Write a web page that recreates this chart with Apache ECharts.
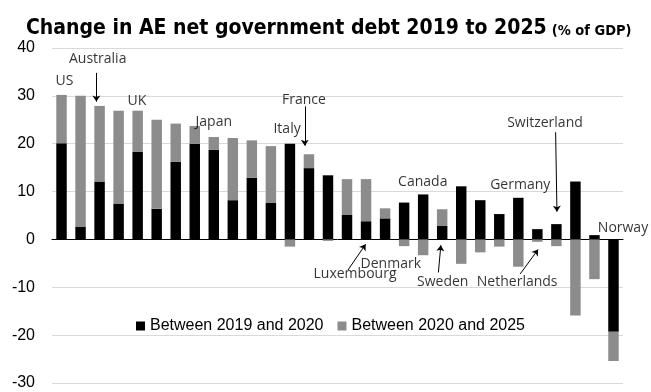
<!DOCTYPE html>
<html>
<head>
<meta charset="utf-8">
<script src="https://cdn.jsdelivr.net/npm/echarts@6/dist/echarts.min.js"></script>
<style>
html,body{margin:0;padding:0;background:#fff}
#chart{width:651px;height:392px}
</style>
</head>
<body>
<div id="chart"></div>
<script>
// 各经济体（只有标注的有名字）
var countries = ['US','AE2','Australia','AE4','UK','AE6','AE7','AE8','Japan','AE10','AE11','AE12',
	'Italy','France','AE15','AE16','Luxembourg','AE18','Denmark','Canada','Sweden','AE22','AE23',
	'AE24','Germany','Netherlands','Switzerland','AE28','AE29','Norway'];
var change1920 = [20.1,2.6,12.1,7.5,18.3,6.4,16.2,20.0,18.7,8.2,12.9,7.7,
	20.0,14.9,13.4,5.1,3.8,4.4,7.7,9.4,2.8,11.1,8.2,5.3,8.7,2.15,3.2,12.1,0.9,-19.3];
var change2025 = [10.1,27.4,15.8,19.4,8.6,18.6,8.0,3.7,2.7,13.0,7.8,11.8,
	-1.5,2.9,-0.3,7.5,8.8,2.1,-1.4,-3.3,3.5,-5.1,-2.7,-1.5,-5.7,-0.5,-1.4,-15.9,-8.3,-6.1];
var seriesNames = ['Between 2019 and 2020','Between 2020 and 2025'];
var yMin = -30, yMax = 40, yStep = 10;

// 标注文字（x 为类目序号，y 为数值）
var noteNames = ['US','Australia','UK','Japan','Italy','France','Luxembourg','Denmark',
	'Canada','Sweden','Netherlands','Germany','Switzerland','Norway'];
var noteX = [0.15,1.9,3.96,8.0,11.85,12.74,15.42,17.3,18.98,20.03,23.94,24.1,25.4,29.5];
var noteY = [33.2,37.7,29.0,24.6,23.0,29.2,-7.2,-5.1,11.9,-9.0,-9.0,11.3,24.3,2.3];

// 箭头 [x1,y1,x2,y2]
var arrowList = [
	[1.83,34.8,1.83,28.8],
	[12.78,27.8,12.78,19.6],
	[15.05,-6.4,15.98,-1.0],
	[19.8,-6.9,19.93,-1.2],
	[24.1,-7.2,25.04,-2.1],
	[25.96,22.4,26.03,5.8]
];

var chart = echarts.init(document.getElementById('chart'));

var notes = [];
for (var i = 0; i < noteNames.length; i++) {
	notes.push({name: noteNames[i], value: [noteX[i], noteY[i]]});
}
var arrows = [];
for (var j = 0; j < arrowList.length; j++) {
	var a = arrowList[j];
	arrows.push({coords: [[a[0], a[1]], [a[2], a[3]]]});
}

var option = {
	animation: false,
	title: {
		left: 21,
		top: 7,
		text: '{a|Change in AE net government debt 2019 to 2025} {b|(% of GDP)}',
		textStyle: {
			rich: {
				a: {fontFamily: 'DejaVu Sans Condensed', fontWeight: 'bold', fontSize: 21, color: '#000', lineHeight: 27, verticalAlign: 'bottom'},
				b: {fontFamily: 'DejaVu Sans Condensed', fontWeight: 'bold', fontSize: 14.5, color: '#000', lineHeight: 24, verticalAlign: 'bottom'}
			}
		}
	},
	legend: {
		data: seriesNames,
		left: 131,
		top: 313,
		icon: 'rect',
		itemWidth: 9,
		itemHeight: 9,
		itemGap: 14,
		textStyle: {fontFamily: 'Liberation Sans', fontSize: 16, color: '#000'}
	},
	grid: {left: 52, right: 28, top: 48, bottom: 9},
	xAxis: [{
		type: 'category',
		data: countries,
		axisLine: {onZero: true, lineStyle: {color: '#000', width: 1}},
		axisTick: {show: false},
		axisLabel: {show: false}
	}, {
		type: 'value',
		min: -0.5,
		max: 29.5,
		show: false
	}],
	yAxis: {
		type: 'value',
		min: yMin,
		max: yMax,
		interval: yStep,
		axisLine: {show: false},
		axisTick: {show: false},
		axisLabel: {fontFamily: 'Liberation Sans', fontSize: 16, color: '#000', margin: 17},
		splitLine: {lineStyle: {color: '#d9d9d9', width: 1}}
	},
	series: [{
		name: seriesNames[0],
		type: 'bar',
		stack: 'd',
		barWidth: '55%',
		itemStyle: {color: '#000'},
		data: change1920
	}, {
		name: seriesNames[1],
		type: 'bar',
		stack: 'd',
		barWidth: '55%',
		itemStyle: {color: '#8c8c8c'},
		data: change2025
	}, {
		type: 'scatter',
		xAxisIndex: 1,
		symbolSize: 0,
		clip: false,
		silent: true,
		label: {
			show: true,
			position: 'inside',
			formatter: '{b}',
			fontFamily: 'Open Sans',
			fontSize: 14,
			color: '#000'
		},
		data: notes
	}, {
		type: 'lines',
		coordinateSystem: 'cartesian2d',
		xAxisIndex: 1,
		silent: true,
		symbol: ['none', 'arrow'],
		symbolSize: 6,
		lineStyle: {color: '#000', width: 1, opacity: 1},
		data: arrows
	}]
};
chart.setOption(option);
</script>
</body>
</html>
